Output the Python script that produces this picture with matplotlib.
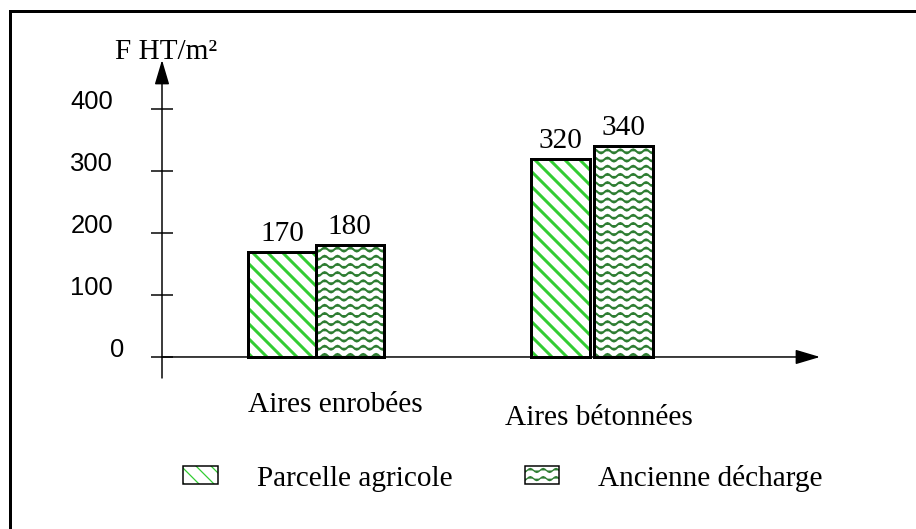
import warnings
import numpy as np
import matplotlib
matplotlib.use('Agg')
import matplotlib.pyplot as plt
from matplotlib import hatch as mhatch
from matplotlib.path import Path
from matplotlib.patches import Patch, Rectangle

warnings.filterwarnings('ignore')

# data
categories = ['Aires enrobées', 'Aires bétonnées']
series_names = ['Parcelle agricole', 'Ancienne décharge']
parcelle = [170, 320]
decharge = [180, 340]
y_ticks = [0, 100, 200, 300, 400]
y_label = 'F HT/m²'

DPI = 90
W, H = 917, 529


def px(n):
    # pixels -> points at our dpi
    return n * 72.0 / DPI


GREEN_LIGHT = '#33cc33'
GREEN_DARK = '#2e7d32'
SERIF = 'Liberation Serif'
SANS = 'Liberation Sans'
SERIF_SIZE = px(29.3)
TICK_SIZE = px(25.6)
DIAG = '\\\\'
WAVE = '~'


class WaveHatch(mhatch.HatchPatternBase):
    """Wavy horizontal lines, triggered by the '~' hatch character."""
    rows = 11
    periods = 7
    steps = 8

    def __init__(self, hatch, density):
        self.num_rows = hatch.count('~') * self.rows
        self.num_pts = self.periods * self.steps + 1
        self.num_vertices = self.num_rows * self.num_pts

    def set_vertices_and_codes(self, vertices, codes):
        t = np.linspace(0, 1, self.num_pts)
        wave = 0.022 * np.sin(2 * np.pi * self.periods * t)
        for i in range(self.num_rows):
            y0 = (i + 0.5) / self.num_rows
            sl = slice(i * self.num_pts, (i + 1) * self.num_pts)
            vertices[sl, 0] = t
            vertices[sl, 1] = y0 + wave
            codes[sl] = Path.LINETO
            codes[i * self.num_pts] = Path.MOVETO


mhatch._hatch_types.append(WaveHatch)

fig = plt.figure(figsize=(W / DPI, H / DPI), dpi=DPI)
fig.patch.set_facecolor('white')

# axes box: y axis at x=162px, from y=378px up to arrow tip at 60px
ax = fig.add_axes([162 / W, (H - 378) / H, (820 - 162) / W, (378 - 60) / H])
ax.set_xlim(-0.558, 1.826)
ax.set_ylim(-33.9, 479)
ax.patch.set_alpha(0)
for s in ax.spines.values():
    s.set_visible(False)
ax.set_xticks([])
ax.set_yticks(y_ticks)
ax.tick_params(axis='y', direction='inout', length=px(22), width=px(1.5),
               labelleft=False, color='black')

# bar layout
x = np.arange(len(categories))
bar_w = np.array([0.245, 0.215])
gap = np.array([0.0, 0.015])
left_x = x - (bar_w + gap) / 2
right_x = x + (bar_w + gap) / 2

# hatch fills first, then black outlines on top
with plt.rc_context({'hatch.linewidth': px(3)}):
    ax.bar(left_x, parcelle, bar_w, color='white', edgecolor=GREEN_LIGHT,
           hatch=DIAG, lw=0)
with plt.rc_context({'hatch.linewidth': px(2)}):
    ax.bar(right_x, decharge, bar_w, color='white', edgecolor=GREEN_DARK,
           hatch=WAVE, lw=0)
ax.bar(left_x, parcelle, bar_w, fill=False, edgecolor='black', lw=px(3))
ax.bar(right_x, decharge, bar_w, fill=False, edgecolor='black', lw=px(3))

# value labels above bars
for xs, vals in [(left_x, parcelle), (right_x, decharge)]:
    for xi, v in zip(xs, vals):
        ax.annotate(str(v), xy=(xi, v), xytext=(0, px(11)),
                    textcoords='offset points', ha='center', va='baseline',
                    fontsize=SERIF_SIZE, family=SERIF)

# category labels under the axis
cat_dx = [px(19), px(7)]
cat_dy = [px(-55), px(-68)]
for xi, name, dx, dy in zip(x, categories, cat_dx, cat_dy):
    ax.annotate(name, xy=(xi, 0), xytext=(dx, dy), textcoords='offset points',
                ha='center', va='baseline', fontsize=SERIF_SIZE, family=SERIF)

# y tick labels (sit slightly above their ticks)
ytrans = ax.get_yaxis_transform()
for v in y_ticks:
    dx = px(-38) if v == 0 else px(-49)
    ax.annotate(str(v), xy=(0, v), xycoords=ytrans, xytext=(dx, px(7)),
                textcoords='offset points', ha='right', va='center',
                fontsize=TICK_SIZE, family=SANS)

# axis arrows
arrow = dict(arrowstyle='-|>,head_length=1.68,head_width=0.5', color='black',
             lw=px(1.5), shrinkA=0, shrinkB=0, mutation_scale=10)
ax.annotate('', xy=(0, 1), xytext=(0, 0), xycoords='axes fraction',
            arrowprops=arrow)
ax.annotate('', xy=(1, 0), xytext=(0, 0), xycoords=ytrans, arrowprops=arrow)

ax.annotate(y_label, xy=(0, 1), xycoords='axes fraction', xytext=(px(4), px(1)),
            textcoords='offset points', ha='center', va='baseline',
            fontsize=SERIF_SIZE, family=SERIF)

# legend
with plt.rc_context({'hatch.linewidth': px(3)}):
    h1 = Patch(facecolor='white', edgecolor=GREEN_LIGHT, hatch=DIAG, lw=0)
with plt.rc_context({'hatch.linewidth': px(2)}):
    h2 = Patch(facecolor='white', edgecolor=GREEN_DARK, hatch=WAVE, lw=0)
o1 = Patch(fill=False, edgecolor='black', lw=px(1.5))
o2 = Patch(fill=False, edgecolor='black', lw=px(1.5))
fig.legend([(h1, o1), (h2, o2)], series_names, loc='center left',
           bbox_to_anchor=(183 / W, 1 - 478 / H), ncol=2, frameon=False,
           prop={'family': SERIF, 'size': SERIF_SIZE},
           handlelength=1.19, handleheight=0.58, handletextpad=1.33,
           columnspacing=2.46, borderpad=0, borderaxespad=0)

# outer frame (right and bottom edges fall outside the picture)
fig.add_artist(Rectangle((10 / W, -0.1), 1.2, (1 - 11 / H) + 0.1,
                         transform=fig.transFigure, fill=False,
                         edgecolor='black', lw=px(3), clip_on=False))

fig.savefig('out.png', dpi=DPI)
